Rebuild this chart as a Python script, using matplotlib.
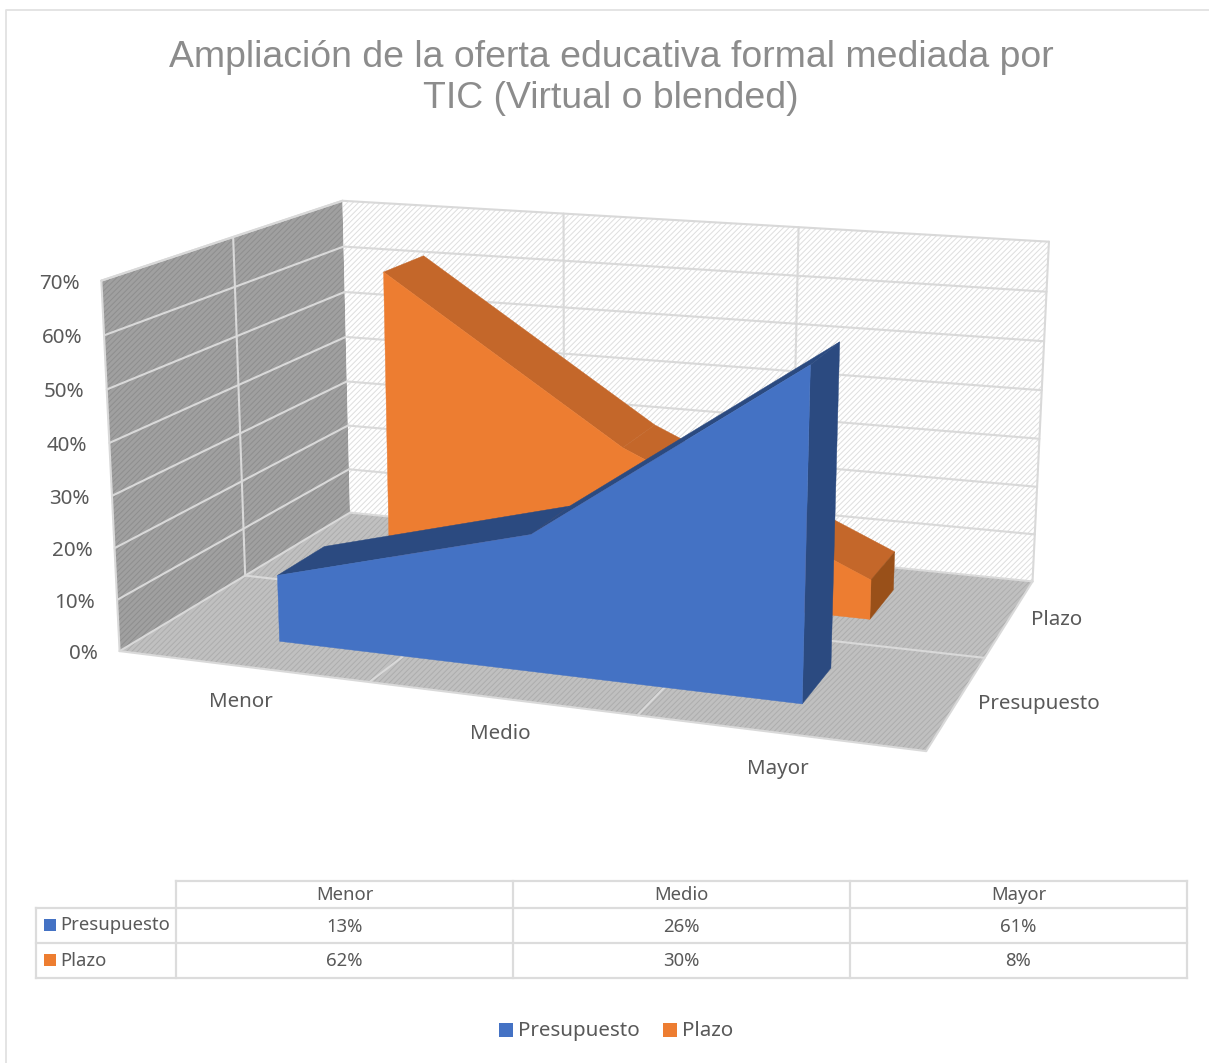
#!/usr/bin/env python3
"""3D area chart with data table, drawn through a fitted perspective projection."""

import numpy as np
import matplotlib
matplotlib.use("Agg")
import matplotlib.pyplot as plt
from matplotlib.patches import Polygon, Rectangle

categories = ["Menor", "Medio", "Mayor"]
series_names = ["Presupuesto", "Plazo"]
presupuesto = [0.13, 0.26, 0.61]
plazo = [0.62, 0.30, 0.08]
z_ticks = [0.0, 0.1, 0.2, 0.3, 0.4, 0.5, 0.6, 0.7]
title = "Ampliación de la oferta educativa formal mediada por\nTIC (Virtual o blended)"

W, H = 1209, 1063
LABEL = "#595959"
GRID = "#d9d9d9"
BLUE, BLUE_DARK = "#4472c4", "#2b4a80"
ORANGE, ORANGE_TOP, ORANGE_END = "#ed7d31", "#c4672a", "#995019"

plt.rcParams["font.family"] = ["Noto Sans", "DejaVu Sans"]
plt.rcParams["hatch.linewidth"] = 0.7

# box corners (category, depth, value) -> where they sit in the picture
box_pts = [(0, 0, 0), (3, 0, 0), (0, 2, 0), (3, 2, 0), (0, 1, 0), (3, 1, 0),
           (0, 0, .7), (0, 2, .7), (3, 2, .7), (0, 1, .7), (1, 0, 0), (2, 0, 0),
           (1, 2, .7), (2, 2, .7)]
px_pts = [(119, 651), (927, 751), (350, 513), (1033, 582), (245, 575), (983, 658),
          (101, 281), (343, 200), (1049, 241), (233, 238), (370, 681), (638, 716),
          (564, 214), (798, 227)]


def fit_projection(pts, pix):
    rows, rhs = [], []
    for (x, y, z), (u, v) in zip(pts, pix):
        rows.append([x, y, z, 1, 0, 0, 0, 0, -u * x, -u * y, -u * z])
        rows.append([0, 0, 0, 0, x, y, z, 1, -v * x, -v * y, -v * z])
        rhs += [u, v]
    h = np.linalg.lstsq(np.array(rows, float), np.array(rhs, float), rcond=None)[0]
    return np.append(h, 1.0).reshape(3, 4)


P = fit_projection(box_pts, px_pts)


def proj(x, y, z):
    u, v, w = P @ np.array([x, y, z, 1.0])
    return (u / w, v / w)


fig = plt.figure(figsize=(W / 100, H / 100), dpi=100)
ax = fig.add_axes([0, 0, 1, 1])
ax.set_xlim(0, W)
ax.set_ylim(H, 0)
ax.axis("off")

# outer frame of the chart
ax.plot([6, 6, W], [H, 10, 10], color="#e2e2e2", lw=1.3)

ax.text(611, 78, title, ha="center", va="center", fontsize=26.9, color="#8c8c8c",
        family="Liberation Sans", linespacing=1.25)


def panel(pts, face, hatch_col):
    ax.add_patch(Polygon([proj(*p) for p in pts], closed=True, facecolor=face,
                         edgecolor=hatch_col, hatch="//////", lw=0, zorder=1))


def line3d(a, b, color=GRID, lw=1.5):
    pa, pb = proj(*a), proj(*b)
    ax.plot([pa[0], pb[0]], [pa[1], pb[1]], color=color, lw=lw, solid_capstyle="round", zorder=2)


top = z_ticks[-1]
panel([(0, 0, 0), (3, 0, 0), (3, 2, 0), (0, 2, 0)], "#c0c0c0", "#adadad")
panel([(0, 0, 0), (0, 2, 0), (0, 2, top), (0, 0, top)], "#a0a0a0", "#8e8e8e")
panel([(0, 2, 0), (3, 2, 0), (3, 2, top), (0, 2, top)], "#ffffff", "#dedede")

# gridlines on walls and floor
for z in z_ticks:
    line3d((0, 0, z), (0, 2, z))
    line3d((0, 2, z), (3, 2, z))
for i in [1, 2]:
    line3d((i, 2, 0), (i, 2, top))
    line3d((i, 0, 0), (i, 2, 0))
line3d((0, 1, 0), (0, 1, top))
line3d((0, 1, 0), (3, 1, 0))
line3d((0, 0, 0), (0, 0, top))
line3d((3, 2, 0), (3, 2, top))
line3d((0, 0, 0), (3, 0, 0))
line3d((3, 0, 0), (3, 2, 0))
line3d((0, 0, top), (0, 2, top))


def area3d(values, y0, y1, face, top_col, end_col):
    xs = [i + 0.5 for i in range(len(values))]
    for i in range(len(xs) - 1):
        quad = [proj(xs[i], y0, values[i]), proj(xs[i + 1], y0, values[i + 1]),
                proj(xs[i + 1], y1, values[i + 1]), proj(xs[i], y1, values[i])]
        ax.add_patch(Polygon(quad, closed=True, facecolor=top_col, edgecolor=top_col, lw=0.3, zorder=3))
    end = [proj(xs[-1], y0, 0), proj(xs[-1], y0, values[-1]),
           proj(xs[-1], y1, values[-1]), proj(xs[-1], y1, 0)]
    ax.add_patch(Polygon(end, closed=True, facecolor=end_col, edgecolor=end_col, lw=0.3, zorder=3))
    front = [proj(xs[0], y0, 0)] + [proj(x, y0, v) for x, v in zip(xs, values)] + [proj(xs[-1], y0, 0)]
    ax.add_patch(Polygon(front, closed=True, facecolor=face, edgecolor=face, lw=0.3, zorder=3))


area3d(plazo, 1.3, 1.7, ORANGE, ORANGE_TOP, ORANGE_END)
area3d(presupuesto, 0.3, 0.7, BLUE, BLUE_DARK, BLUE_DARK)

# axis labels
for z in z_ticks:
    u, v = proj(0, 0, z)
    ax.text(u - 22, v + 3, f"{z:.0%}", ha="right", va="center", fontsize=14.8, color=LABEL)
for i, name in enumerate(categories):
    u, v = proj(i + 0.5, 0, 0)
    ax.text(u - 1, v + 36, name, ha="center", va="center", fontsize=14.8, color=LABEL)
for i, name in enumerate(series_names):
    u, v = proj(3, i + 0.5, 0)
    ax.text(u + 21, v + 2, name, ha="left", va="center", fontsize=14.8, color=LABEL)

# data table
col_x = [36, 176, 513, 850, 1187]
row_y = [881, 908, 943, 978]
tbl = dict(color="#dcdcdc", lw=1.6, solid_capstyle="projecting")
ax.plot([col_x[1], col_x[-1]], [row_y[0], row_y[0]], **tbl)
for y in row_y[1:]:
    ax.plot([col_x[0], col_x[-1]], [y, y], **tbl)
ax.plot([col_x[0], col_x[0]], [row_y[1], row_y[-1]], **tbl)
for x in col_x[1:]:
    ax.plot([x, x], [row_y[0], row_y[-1]], **tbl)

for j, name in enumerate(categories):
    ax.text((col_x[j + 1] + col_x[j + 2]) / 2, 895.5, name, ha="center", va="center",
            fontsize=13.3, color=LABEL)
for r, (name, vals, col) in enumerate(zip(series_names, [presupuesto, plazo], [BLUE, ORANGE])):
    yc = (row_y[r + 1] + row_y[r + 2]) / 2 - 1
    ax.add_patch(Rectangle((44, yc - 5.5), 12, 12, facecolor=col, lw=0))
    ax.text(60, yc + 1, name, ha="left", va="center", fontsize=13.3, color=LABEL)
    for j, v in enumerate(vals):
        ax.text((col_x[j + 1] + col_x[j + 2]) / 2, yc + 2, f"{v:.0%}", ha="center", va="center",
                fontsize=13.3, color=LABEL)

# legend
for x0, name, col in zip([499, 663], series_names, [BLUE, ORANGE]):
    ax.add_patch(Rectangle((x0, 1023), 14, 14, facecolor=col, lw=0))
    ax.text(x0 + 19, 1031, name, ha="left", va="center", fontsize=14.8, color=LABEL)

fig.savefig("out.png", dpi=100)
plt.close(fig)
